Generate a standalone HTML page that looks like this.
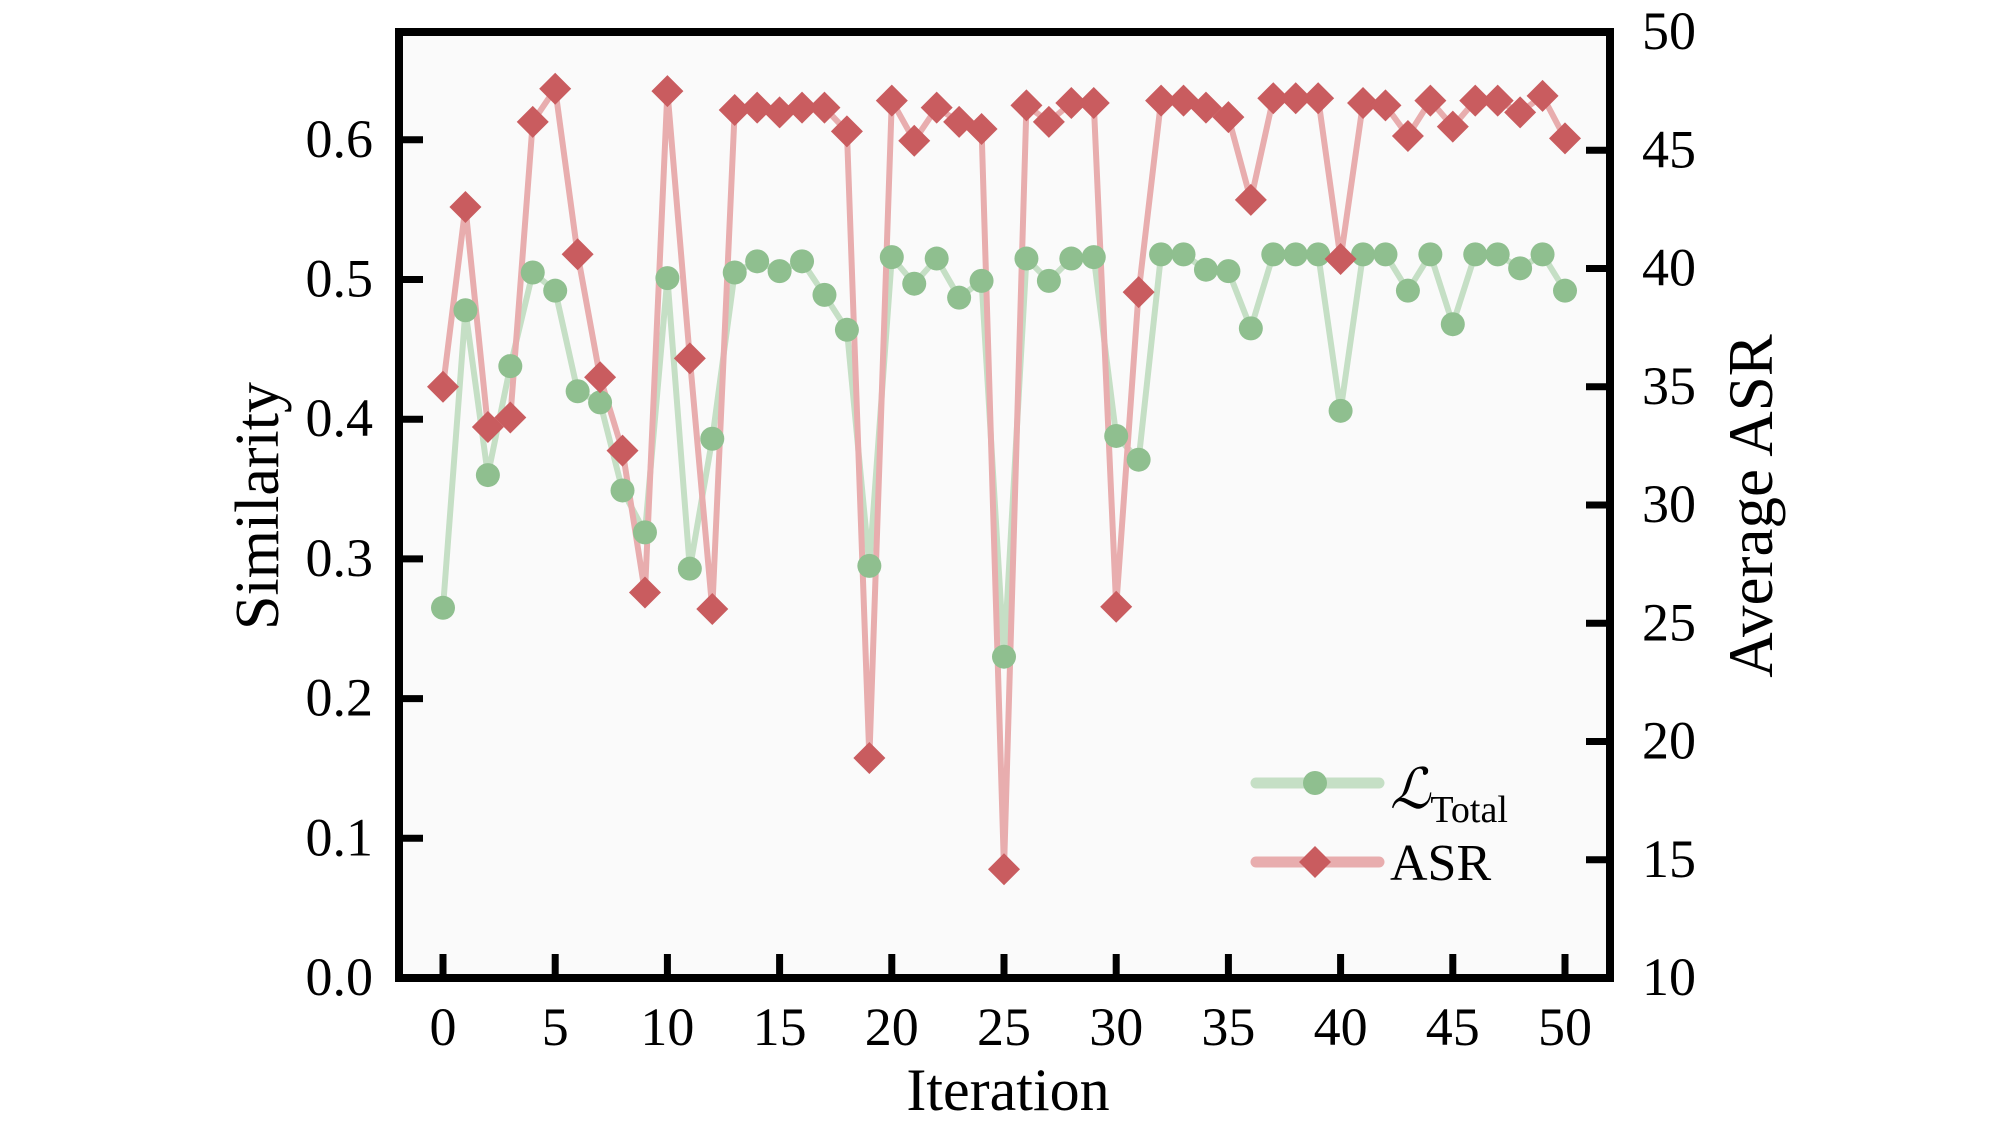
<!DOCTYPE html>
<html><head><meta charset="utf-8"><style>
body{margin:0;background:#fff;}
svg{display:block;font-family:"Liberation Serif",serif;}
</style></head><body>
<svg id="chart" width="2008" height="1122" viewBox="0 0 2008 1122" xmlns="http://www.w3.org/2000/svg">
<rect x="399" y="32" width="1211" height="946" fill="#fafafa"/>
<g id="lines"></g>
<g id="marks"></g>
<rect x="399" y="32" width="1211" height="946" fill="none" stroke="#000" stroke-width="8"/>
<g id="axes"></g>
<text transform="translate(278,506) rotate(-90)" text-anchor="middle" font-size="62">Similarity</text>
<text transform="translate(1772,506) rotate(-90)" text-anchor="middle" font-size="63">Average ASR</text>
<text x="1008" y="1110" text-anchor="middle" font-size="60">Iteration</text>
<g>
<line x1="1256" y1="783" x2="1379" y2="783" stroke="#c5dfc5" stroke-width="11" stroke-linecap="round"/>
<circle cx="1315" cy="783" r="12" fill="#8fbf8f"/>
<text x="1390" y="808" font-size="56" font-style="italic">ℒ<tspan font-style="normal" font-size="38" dy="14">Total</tspan></text>
<line x1="1256" y1="862" x2="1379" y2="862" stroke="#e8adae" stroke-width="11" stroke-linecap="round"/>
<polygon points="1315,846 1331,862 1315,878 1299,862" fill="#c95c5f"/>
<text x="1390" y="880" font-size="52">ASR</text>
</g>
</svg>
<script>
const iterations=[0,1,2,3,4,5,6,7,8,9,10,11,12,13,14,15,16,17,18,19,20,21,22,23,24,25,26,27,28,29,30,31,32,33,34,35,36,37,38,39,40,41,42,43,44,45,46,47,48,49,50];
const similarity=[.265,.478,.36,.438,.505,.492,.42,.412,.349,.319,.501,.293,.386,.505,.513,.506,.513,.489,.464,.295,.516,.497,.515,.487,.499,.23,.515,.499,.515,.516,.388,.371,.518,.518,.507,.506,.465,.518,.518,.518,.406,.518,.518,.492,.518,.468,.518,.518,.508,.518,.492];
const asr=[35.0,42.6,33.3,33.7,46.2,47.6,40.6,35.4,32.3,26.3,47.5,36.2,25.6,46.7,46.8,46.6,46.8,46.8,45.8,19.3,47.1,45.4,46.8,46.2,45.9,14.6,46.9,46.2,47.0,47.0,25.7,39.0,47.1,47.1,46.8,46.4,42.9,47.2,47.2,47.2,40.4,47.0,46.9,45.6,47.1,46.0,47.1,47.1,46.6,47.3,45.5];
const xTicks=[0,5,10,15,20,25,30,35,40,45,50];
const yTicks=[0.0,0.1,0.2,0.3,0.4,0.5,0.6];
const y2Ticks=[10,15,20,25,30,35,40,45,50];
const NS='http://www.w3.org/2000/svg';
const X=v=>443+v*22.44;
const Y=v=>978-v*1397;
const Y2=v=>978-(v-10)*23.65;
function mk(t,a,p){const e=document.createElementNS(NS,t);for(const k in a)e.setAttribute(k,a[k]);p.appendChild(e);return e;}
const L=document.getElementById('lines'),M=document.getElementById('marks'),A=document.getElementById('axes');
let p1=mk('polyline',{points:iterations.map((x,i)=>X(x)+','+Y(similarity[i])).join(' '),fill:'none',stroke:'#c5dfc5','stroke-width':6,'stroke-linejoin':'round'},L);


let p2=mk('polyline',{points:iterations.map((x,i)=>X(x)+','+Y2(asr[i])).join(' '),fill:'none',stroke:'#e8adae','stroke-width':6,'stroke-linejoin':'round'},L);


iterations.forEach((x,i)=>{
 const c=mk('circle',{cx:X(x),cy:Y(similarity[i]),r:12,fill:'#8fbf8f'},M);
 
 
});
iterations.forEach((x,i)=>{
 const cx=X(x),cy=Y2(asr[i]);
 const d=mk('polygon',{points:`${cx},${cy-16} ${cx+16},${cy} ${cx},${cy+16} ${cx-16},${cy}`,fill:'#c95c5f'},M);
 
 
});
xTicks.forEach(v=>{
 const t=mk('line',{x1:X(v),x2:X(v),y1:978,y2:954,stroke:'#000','stroke-width':7},A);
 
 
 const l=mk('text',{x:X(v),y:1045,'text-anchor':'middle','font-size':54},A);l.textContent=v;
 
 
});
yTicks.forEach(v=>{
 const t=mk('line',{x1:399,x2:423,y1:Y(v),y2:Y(v),stroke:'#000','stroke-width':7},A);
 
 
 const l=mk('text',{x:373,y:Y(v)+17,'text-anchor':'end','font-size':54},A);l.textContent=v.toFixed(1);
 
 
});
y2Ticks.forEach(v=>{
 const t=mk('line',{x1:1586,x2:1610,y1:Y2(v),y2:Y2(v),stroke:'#000','stroke-width':7},A);
 
 
 const l=mk('text',{x:1642,y:Y2(v)+17,'text-anchor':'start','font-size':54},A);l.textContent=v;
 
 
});
</script>
</body></html>
